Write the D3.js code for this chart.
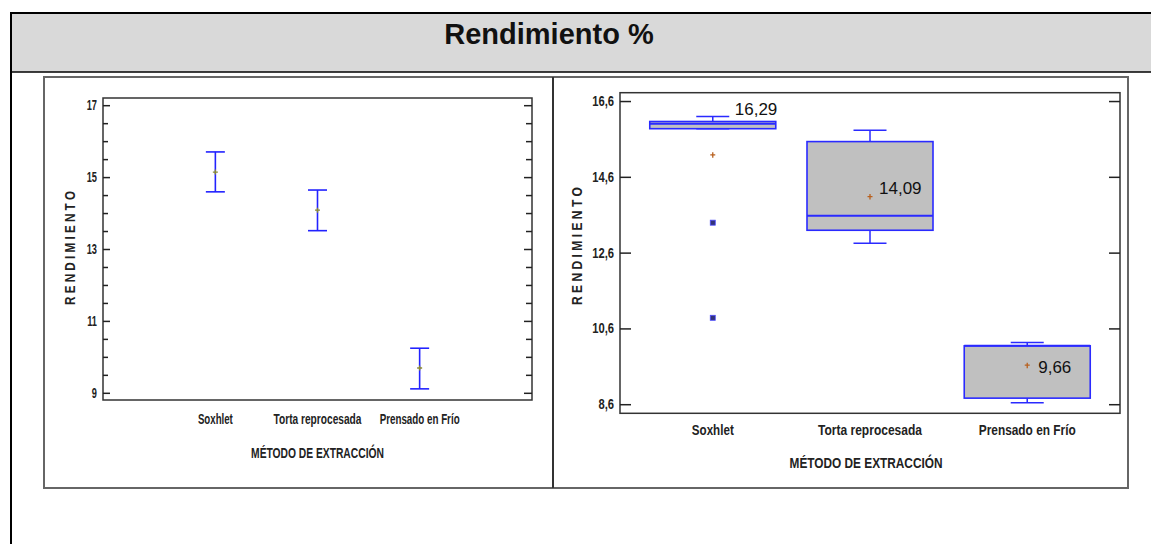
<!DOCTYPE html>
<html>
<head>
<meta charset="utf-8">
<script src="https://cdn.jsdelivr.net/npm/d3@7"></script>
<style>
body { margin: 0; background: #fff; }
svg { display: block; }
.narrow { font-family: 'Liberation Sans Narrow', 'Arial Narrow', 'Liberation Sans', Arial, sans-serif; font-weight: bold; fill: #222; }
</style>
</head>
<body>
<div id="root"></div>
<script>
// data
var categories = ["Soxhlet", "Torta reprocesada", "Prensado en Frío"];

// left: means with intervals
var means = [15.14, 14.08, 9.69];
var ciLow = [14.59, 13.51, 9.11];
var ciHigh = [15.70, 14.64, 10.24];
var leftTicks = [9, 11, 13, 15, 17];
var leftMinor = [9.5, 10, 10.5, 11.5, 12, 12.5, 13.5, 14, 14.5, 15.5, 16, 16.5];

// right: box and whisker
var whiskLow = [15.87, 12.85, 8.64];
var q1 = [15.87, 13.19, 8.76];
var median = [16.00, 13.57, 10.14];
var q3 = [16.06, 15.53, 10.14];
var whiskHigh = [16.19, 15.83, 10.23];
var boxMeans = [15.18, 14.08, 9.63];
var outliers = [[13.39, 10.88], [], []];
var meanLabels = [16.29, 14.09, 9.66];
var rightTicks = [8.6, 10.6, 12.6, 14.6, 16.6];

var W = 1151, H = 544;
var svg = d3.select("#root").append("svg").attr("width", W).attr("height", H);
svg.append("rect").attr("width", W).attr("height", H).attr("fill", "#fff");

// squeeze bold text to look like the narrow face of the original
function condense(sel, f) {
    sel.each(function() {
        var len = this.getComputedTextLength();
        d3.select(this).attr("textLength", len * f).attr("lengthAdjust", "spacingAndGlyphs");
    });
}
// centred narrow label squeezed to a given width (rot = -90 for vertical titles)
function narrowText(g, txt, x, y, size, width, rot) {
    var t = g.append("text").attr("class", "narrow").attr("font-size", size + "px")
        .attr("text-anchor", "middle").text(txt);
    var f = width / t.node().getComputedTextLength();
    t.attr("transform", "translate(" + x + "," + y + ")" + (rot ? " rotate(" + rot + ")" : "") + " scale(" + f + ",1)");
    return t;
}

// table header
svg.append("rect").attr("x", 11).attr("y", 13).attr("width", W - 11).attr("height", 59).attr("fill", "#d9d9d9");
svg.append("line").attr("x1", 11).attr("x2", W).attr("y1", 13).attr("y2", 13).attr("stroke", "#000").attr("stroke-width", 2);
svg.append("line").attr("x1", 11).attr("x2", W).attr("y1", 72).attr("y2", 72).attr("stroke", "#000").attr("stroke-width", 1.5);
svg.append("line").attr("x1", 11).attr("x2", 11).attr("y1", 12).attr("y2", H).attr("stroke", "#000").attr("stroke-width", 2);
svg.append("text").attr("x", 549).attr("y", 44).attr("text-anchor", "middle")
    .attr("font-family", "'Liberation Sans', Arial, sans-serif").attr("font-weight", "bold")
    .attr("font-size", "29px").attr("fill", "#111").text("Rendimiento %");

// image frame
svg.append("rect").attr("x", 44).attr("y", 77).attr("width", 1084).attr("height", 411)
    .attr("fill", "none").attr("stroke", "#666").attr("stroke-width", 2);
svg.append("line").attr("x1", 553).attr("x2", 553).attr("y1", 77).attr("y2", 488).attr("stroke", "#333").attr("stroke-width", 2);

function fmtComma(d) { return d3.format(".1f")(d).replace(".", ","); }

function plotFrame(g, x0, x1, y0, y1) {
    g.append("rect").attr("x", x0).attr("y", y0).attr("width", x1 - x0).attr("height", y1 - y0)
        .attr("fill", "none").attr("stroke", "#333").attr("stroke-width", 1.5);
}
function tickStyle(s) { s.select(".domain").remove(); s.selectAll("line").attr("stroke", "#222").attr("stroke-width", 1.5); }

// ---- left panel
var L = {x0: 103, x1: 532, y0: 98, y1: 400};
var yL = d3.scaleLinear().domain([8.8, 17.2]).range([L.y1, L.y0]);
var xL = d3.scalePoint().domain(categories).range([L.x0, L.x1]).padding(1.1);
var gl = svg.append("g");
plotFrame(gl, L.x0, L.x1, L.y0, L.y1);

var axL = gl.append("g").attr("transform", "translate(" + L.x0 + ",0)")
    .call(d3.axisLeft(yL).tickValues(leftTicks).tickSize(-7).tickPadding(6).tickFormat(d3.format("d")));
tickStyle(axL);
axL.selectAll("text").attr("class", "narrow").attr("font-size", "14px").attr("fill", "#222").call(condense, 0.66);
gl.append("g").attr("transform", "translate(" + L.x0 + ",0)")
    .call(d3.axisLeft(yL).tickValues(leftMinor).tickSize(-5).tickFormat("")).call(tickStyle);
gl.append("g").attr("transform", "translate(" + L.x1 + ",0)")
    .call(d3.axisRight(yL).tickValues(leftTicks).tickSize(-8).tickFormat("")).call(tickStyle);
gl.append("g").attr("transform", "translate(" + L.x1 + ",0)")
    .call(d3.axisRight(yL).tickValues(leftMinor).tickSize(-6).tickFormat("")).call(tickStyle);

var capL = 9.5;
categories.forEach(function(c, i) {
    var cx = xL(c);
    gl.append("line").attr("x1", cx).attr("x2", cx).attr("y1", yL(ciHigh[i])).attr("y2", yL(ciLow[i]))
        .attr("stroke", "#2222ff").attr("stroke-width", 1.6);
    [ciHigh[i], ciLow[i]].forEach(function(v) {
        gl.append("line").attr("x1", cx - capL).attr("x2", cx + capL).attr("y1", yL(v)).attr("y2", yL(v))
            .attr("stroke", "#2222ff").attr("stroke-width", 1.6);
    });
    gl.append("path").attr("d", "M" + (cx - 2.5) + "," + yL(means[i]) + "h5M" + cx + "," + (yL(means[i]) - 2.5) + "v5")
        .attr("stroke", "#8a8a30").attr("stroke-width", 1.3);
});
var xlL = [35, 88, 80];
categories.forEach(function(c, i) { narrowText(gl, c, xL(c), 424, 14, xlL[i]); });
narrowText(gl, "MÉTODO DE EXTRACCIÓN", (L.x0 + L.x1) / 2, 458, 14, 133);
narrowText(gl, "R E N D I M I E N T O", 75, 248, 15, 114, -90);

// ---- right panel
var R = {x0: 620, x1: 1120, y0: 92.7, y1: 413.3};
var yR = d3.scaleLinear().domain([8.36, 16.82]).range([R.y1, R.y0]);
var xR = d3.scalePoint().domain(categories).range([R.x0, R.x1]).padding(0.59);
var gr = svg.append("g");
plotFrame(gr, R.x0, R.x1, R.y0, R.y1);

var axR = gr.append("g").attr("transform", "translate(" + R.x0 + ",0)")
    .call(d3.axisLeft(yR).tickValues(rightTicks).tickSize(-11).tickPadding(6).tickFormat(fmtComma));
tickStyle(axR);
axR.selectAll("text").attr("class", "narrow").attr("font-size", "14px").attr("fill", "#3a2a10").call(condense, 0.8);
gr.append("g").attr("transform", "translate(" + R.x1 + ",0)")
    .call(d3.axisRight(yR).tickValues(rightTicks).tickSize(-11).tickFormat("")).call(tickStyle);

var boxW = 126, capR = 16.5, blue = "#2a2aff";
var labelNudge = [[22, 2], [9, -2], [11, 9]];
categories.forEach(function(c, i) {
    var cx = xR(c);
    // whiskers
    gr.append("line").attr("x1", cx).attr("x2", cx).attr("y1", yR(whiskHigh[i])).attr("y2", yR(q3[i]))
        .attr("stroke", blue).attr("stroke-width", 1.5);
    gr.append("line").attr("x1", cx).attr("x2", cx).attr("y1", yR(q1[i])).attr("y2", yR(whiskLow[i]))
        .attr("stroke", blue).attr("stroke-width", 1.5);
    [whiskHigh[i], whiskLow[i]].forEach(function(v) {
        gr.append("line").attr("x1", cx - capR).attr("x2", cx + capR).attr("y1", yR(v)).attr("y2", yR(v))
            .attr("stroke", blue).attr("stroke-width", 1.5);
    });
    // box
    gr.append("rect").attr("x", cx - boxW / 2).attr("y", yR(q3[i])).attr("width", boxW)
        .attr("height", yR(q1[i]) - yR(q3[i])).attr("fill", "#c0c0c0").attr("stroke", blue).attr("stroke-width", 1.6);
    gr.append("line").attr("x1", cx - boxW / 2).attr("x2", cx + boxW / 2).attr("y1", yR(median[i])).attr("y2", yR(median[i]))
        .attr("stroke", blue).attr("stroke-width", 2);
    // mean marker
    var my = yR(boxMeans[i]);
    gr.append("path").attr("d", "M" + (cx - 2.5) + "," + my + "h5M" + cx + "," + (my - 2.5) + "v5.5")
        .attr("stroke", "#b8601e").attr("stroke-width", 1.3);
    // outliers
    outliers[i].forEach(function(v) {
        gr.append("rect").attr("x", cx - 2.5).attr("y", yR(v) - 2.5).attr("width", 5).attr("height", 5)
            .attr("fill", "#33337a").attr("stroke", "#4a4aff").attr("stroke-width", 0.8);
    });
    // value label
    gr.append("text").attr("x", cx + labelNudge[i][0]).attr("y", yR(meanLabels[i]) + labelNudge[i][1])
        .attr("font-family", "'Liberation Sans', Arial, sans-serif").attr("font-size", "17px").attr("fill", "#111")
        .text(d3.format(".2f")(meanLabels[i]).replace(".", ","));
});
var xlR = [42, 104, 97];
categories.forEach(function(c, i) { narrowText(gr, c, xR(c), 435, 15, xlR[i]); });
narrowText(gr, "MÉTODO DE EXTRACCIÓN", 866, 468, 15, 153);
narrowText(gr, "R E N D I M I E N T O", 582, 246, 15, 118, -90);
</script>
</body>
</html>
